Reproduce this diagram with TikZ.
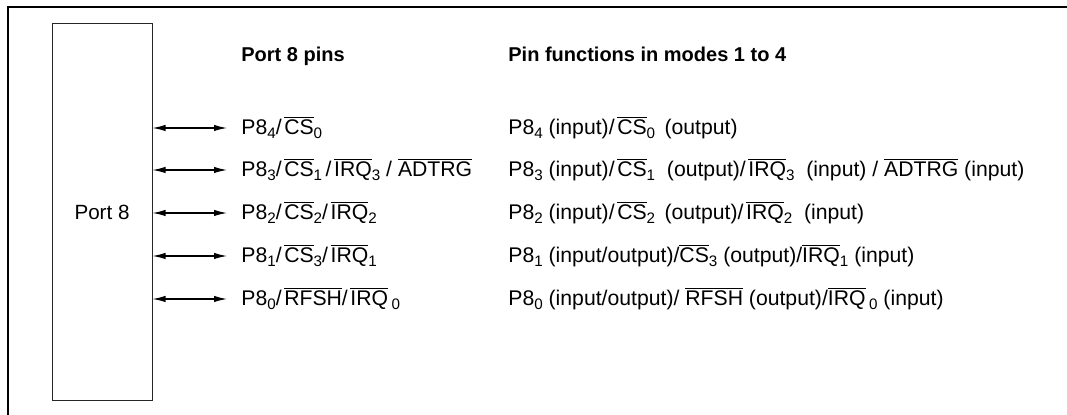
\documentclass[tikz,border=0pt]{standalone}
\usepackage{fontspec}
\setmainfont{Liberation Sans}
\usetikzlibrary{positioning, arrows.meta}

\newcommand{\nsig}[1]{\ensuremath{\overline{\mbox{#1}}}}
\newcommand{\psub}[1]{\raisebox{-1.9pt}{\fontsize{7.6}{8}\selectfont #1}}
\newcommand{\pslash}{/\kern1.3pt}

\begin{document}
\begin{tikzpicture}[x=0.5pt, y=-0.5pt, >={Latex[length=6.5pt, width=3.2pt]},
    pin/.style={anchor=base west, inner sep=0pt, font=\fontsize{10.6}{12}\selectfont},
    head/.style={anchor=base west, inner sep=0pt, font=\fontsize{10}{12}\selectfont\bfseries},
    link/.style={<->, line width=0.6pt}]
    \useasboundingbox (0,0) rectangle (1067,415);

    % frame
    \draw[line width=1pt] (7.5,415) -- (7.5,7.5) -- (1067,7.5);

    % port block
    \node[draw, black!85, line width=0.5pt, minimum width=50pt, minimum height=188.5pt,
        inner sep=0pt, text=black, font=\fontsize{10.3}{12}\selectfont] (port) at (102,212.5) {Port 8};

    % headings
    \node[head] (hpins) at (241,62) {Port 8 pins};
    \node[head] (hfunc) at (508,62) {Pin functions in modes 1 to 4};

    % arrow ends
    \coordinate (t4) at (227,128);
    \coordinate (t3) at (227,170);
    \coordinate (t2) at (227,213);
    \coordinate (t1) at (227,256);
    \coordinate (t0) at (227,299);

    \foreach \i in {4,3,2,1,0}
        \draw[link] (port.east |- t\i) -- (t\i);

    % pin names
    \node[pin] (p4) at (241,135) {P8\psub{4}\pslash\nsig{CS}\psub{0}};
    \node[pin] (p3) at (241,177) {P8\psub{3}\pslash\nsig{CS}\psub{1}\,\pslash\nsig{IRQ}\psub{3} / \nsig{ADTRG}};
    \node[pin] (p2) at (241,220) {P8\psub{2}\pslash\nsig{CS}\psub{2}\pslash\nsig{IRQ}\psub{2}};
    \node[pin] (p1) at (241,263) {P8\psub{1}\pslash\nsig{CS}\psub{3}\pslash\nsig{IRQ}\psub{1}};
    \node[pin] (p0) at (241,306) {P8\psub{0}\pslash\nsig{RFSH}\pslash\nsig{IRQ}\,\psub{0}};

    % pin functions
    \node[pin] (f4) at (508,135) {P8\psub{4} (input)\pslash\nsig{CS}\psub{0}\ \,(output)};
    \node[pin] (f3) at (508,177) {P8\psub{3} (input)\pslash\nsig{CS}\psub{1}\ \ (output)\pslash\nsig{IRQ}\psub{3}\ \ (input) / \nsig{ADTRG} (input)};
    \node[pin] (f2) at (508,220) {P8\psub{2} (input)\pslash\nsig{CS}\psub{2}\ \,(output)\pslash\nsig{IRQ}\psub{2}\ \ (input)};
    \node[pin] (f1) at (508,263) {P8\psub{1} (input/output)/\nsig{CS}\psub{3} (output)/\nsig{IRQ}\psub{1} (input)};
    \node[pin] (f0) at (508,306) {P8\psub{0} (input/output)/ \nsig{RFSH} (output)/\nsig{IRQ}\,\psub{0} (input)};
\end{tikzpicture}
\end{document}
